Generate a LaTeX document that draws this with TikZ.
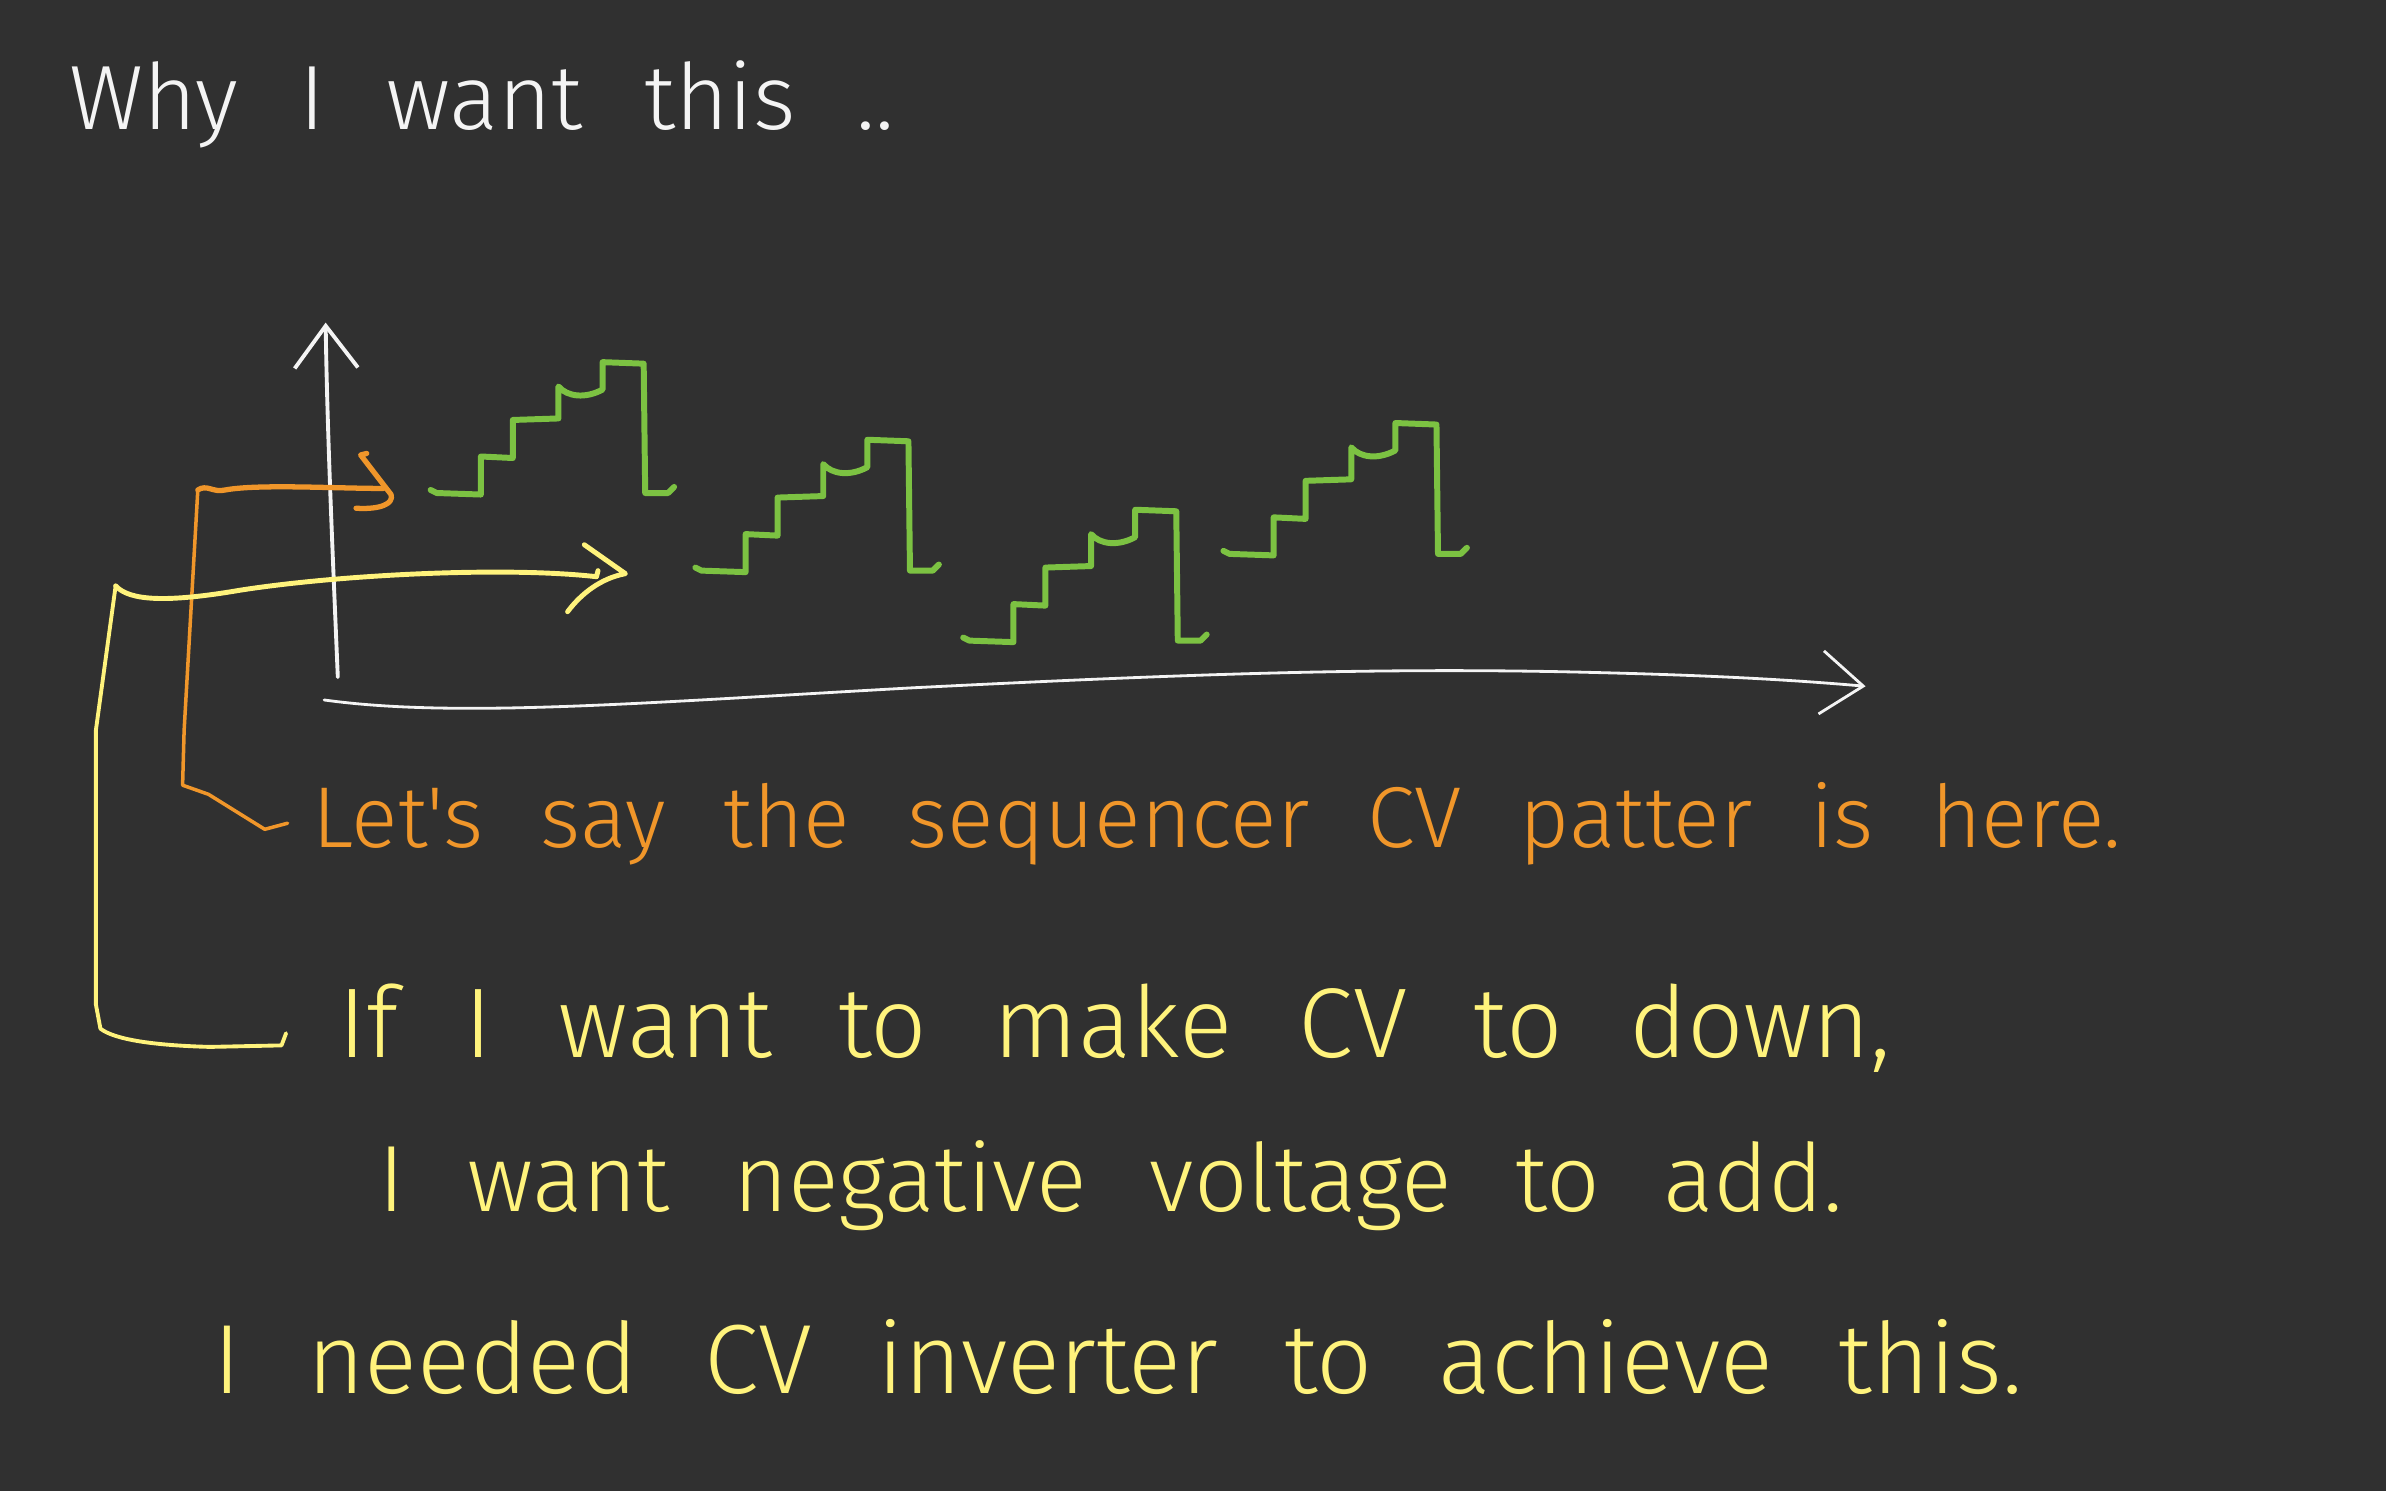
\documentclass[tikz,border=0pt]{standalone}
\usepackage{fontspec}
\newfontfamily\handfont[WordSpace=2.4]{Fira Sans Light}
\usetikzlibrary{arrows.meta}
\definecolor{boardgray}{HTML}{303030}
\definecolor{chalkwhite}{HTML}{F4F4F4}
\definecolor{cvgreen}{HTML}{7CC242}
\definecolor{noteorange}{HTML}{F0962A}
\definecolor{noteyellow}{HTML}{FFF37C}
\newcommand{\handsize}[1]{\handfont\fontsize{#1}{#1}\selectfont}
\tikzset{
  axisline/.style={chalkwhite, line width=1.1pt, line cap=round, -{Straight Barb[length=12pt, width=18pt]}},
  cvstep/.style={cvgreen, line width=1.7pt, line join=round, line cap=round},
  orangelead/.style={noteorange, line width=1.0pt, line cap=round, line join=round},
  yellowlead/.style={noteyellow, line width=1.1pt, line cap=round, line join=round},
  handtext/.style={anchor=base west, inner sep=0pt},
  cvstairs/.pic={
    \draw[cvstep] (0,-2) -- (4,0) -- (33,1) -- (33,-24) -- (54,-23) -- (54,-48) -- (84,-49) -- (84,-70)
      .. controls (90,-63) and (102,-62) .. (113,-68) -- (113,-86) -- (140,-85) -- (141,0) -- (156,0) -- (160,-4);
  }
}

\begin{document}
\begin{tikzpicture}[x=0.15217mm, y=-0.15217mm]
  \fill[boardgray] (0,0) rectangle (1568,980);
  \useasboundingbox (0,0) rectangle (1568,980);

  % title
  \node[handtext, chalkwhite, font=\handsize{26}] (title) at (45,85) {Why I want this ..};

  % axes
  \coordinate (origin) at (222,445);
  \coordinate (ytip) at (214,212);
  \coordinate (xstart) at (213,460);
  \coordinate (xtip) at (1226,451);
  \draw[axisline] (origin) .. controls (218,350) and (215,280) .. (ytip);
  \draw[axisline, line width=0.8pt] (xstart) .. controls (300,472) and (420,462) .. (600,452)
    .. controls (760,444) and (900,438) .. (1050,442) .. controls (1130,444) and (1180,447) .. (xtip);

  % sequencer pattern
  \pic at (283,324) {cvstairs};
  \pic at (457,375) {cvstairs};
  \pic at (633,421) {cvstairs};
  \pic at (804,364) {cvstairs};

  % orange lead
  \coordinate (orangeend) at (189,541);
  \coordinate (orangetip) at (257,325);
  \draw[orangelead] (orangeend) -- (174,545) -- (137,522) -- (120,516) -- (121,480) -- (130,322);
  \draw[orangelead, line width=1.5pt] (130,322) .. controls (136,318) and (140,324) .. (148,322)
    .. controls (170,318) and (220,321) .. (252,321);
  \draw[orangelead, line width=1.5pt] (241,298) -- (237,299) -- (orangetip)
    .. controls (259,331) and (250,335) .. (234,334);

  % yellow lead
  \coordinate (yellowend) at (188,679);
  \coordinate (yellowtip) at (411,377);
  \draw[yellowlead] (yellowend) -- (185,687) -- (138,688) .. controls (100,687) and (75,683) .. (66,676)
    -- (63,660) -- (63,480) -- (76,385);
  \draw[yellowlead, line width=1.4pt] (76,385) .. controls (85,395) and (110,396) .. (157,388)
    .. controls (220,378) and (330,372) .. (392,379) -- (393,375);
  \draw[yellowlead, line width=1.4pt] (384,358) -- (yellowtip) .. controls (395,380) and (382,390) .. (373,402);

  % notes
  \node[handtext, noteorange, font=\handsize{24.6}] (letsay) at (205,557) {Let's say the sequencer CV patter is here.};
  \node[handtext, noteyellow, font=\handsize{28.2}] (linea) at (222,695) {If I want to make CV to down,};
  \node[handtext, noteyellow, font=\handsize{26.8}] (lineb) at (248,796) {I want negative voltage to add.};
  \node[handtext, noteyellow, font=\handsize{28}] (linec) at (140,916) {I needed CV inverter to achieve this.};
\end{tikzpicture}
\end{document}
